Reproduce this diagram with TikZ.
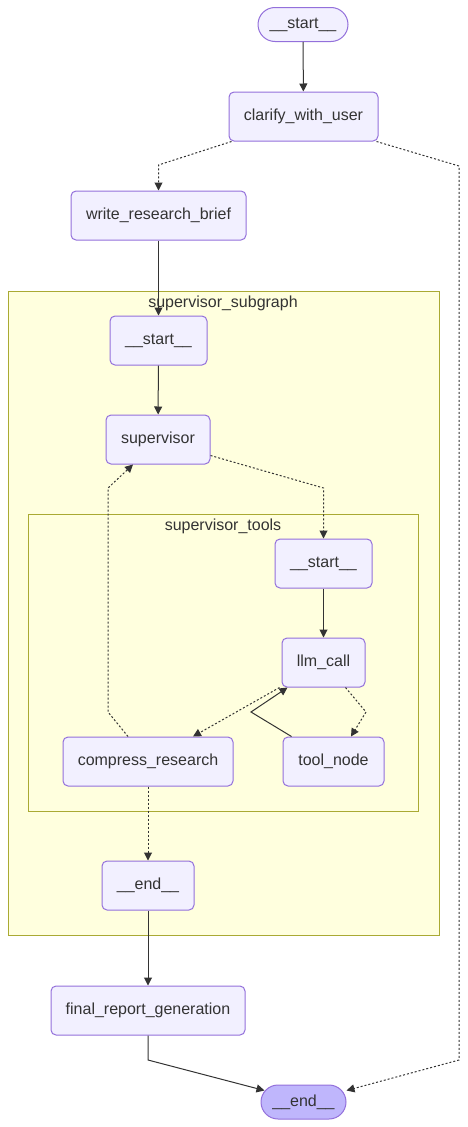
\documentclass[tikz,border=0pt]{standalone}
\usepackage{fontspec}
\setmainfont{Liberation Sans}
\usetikzlibrary{arrows.meta}
\definecolor{nodefill}{HTML}{F2F0FF}
\definecolor{nodeline}{HTML}{9370DB}
\definecolor{clusterfill}{HTML}{FFFFDE}
\definecolor{clusterline}{HTML}{AAAA33}
\definecolor{edgecol}{HTML}{333333}
\definecolor{endfill}{HTML}{BFB6FC}
\begin{document}
\begin{tikzpicture}[x=1pt, y=-1pt, text=edgecol, font=\fontsize{16}{19}\selectfont,
  main/.style = {draw=nodeline, fill=nodefill, line width=1pt, rounded corners=5pt, minimum height=49pt, inner sep=0pt},
  pill/.style = {main, rounded corners=17pt, minimum height=34pt},
  cluster/.style = {draw=clusterline, fill=clusterfill, line width=1pt},
  flow/.style = {draw=edgecol, line width=1pt, -{Triangle[length=8pt, width=8pt]}},
  cond/.style = {flow, dash pattern=on 2pt off 2pt}]
\useasboundingbox (0,0) rectangle (467,1127);
\draw[cluster] (8,291) rectangle (439,935);
\node[anchor=base] (subgraphlabel) at (223,307) {supervisor\_subgraph};
\draw[cluster] (28,514) rectangle (418,811);
\node[anchor=base] (toolslabel) at (223,530) {supervisor\_tools};
\node[pill, minimum width=90pt] (start) at (303,24.5) {\_\_start\_\_};
\node[main, minimum width=149pt] (clarify) at (303.5,116.5) {clarify\_with\_user};
\node[main, minimum width=175pt] (brief) at (158.5,215.5) {write\_research\_brief};
\node[main, minimum width=97pt] (substart) at (158.5,340.5) {\_\_start\_\_};
\node[main, minimum width=104pt] (supervisor) at (158,439.5) {supervisor};
\node[main, minimum width=97pt] (toolsstart) at (323.5,563.5) {\_\_start\_\_};
\node[main, minimum width=83pt] (llm) at (323.5,662.5) {llm\_call};
\node[main, minimum width=170pt] (compress) at (148,761.5) {compress\_research};
\node[main, minimum width=101pt] (toolnode) at (333.5,761.5) {tool\_node};
\node[main, minimum width=92pt] (subend) at (148,885.5) {\_\_end\_\_};
\node[main, minimum width=194pt] (final) at (148,1010.5) {final\_report\_generation};
\node[pill, fill=endfill, minimum width=85pt] (end) at (303.5,1102) {\_\_end\_\_};
\draw[flow] (start) -- (clarify);
\draw[cond] ([xshift=3pt]clarify.south west) -- (158.5,165) -- (brief.north);
\draw[cond] ([xshift=-2pt]clarify.south east) -- (459,166) -- (459,1060) -- ([yshift=-6pt]end.north east);
\draw[flow] (brief) -- (substart);
\draw[flow] (substart) -- (supervisor);
\draw[cond] ([yshift=9pt]supervisor.south east) -- (323.5,488) -- (toolsstart.north);
\draw[cond] ([xshift=-20pt]compress.north) -- (108,712) -- (108,488) -- ([xshift=-25pt]supervisor.south);
\draw[flow] (toolsstart) -- (llm);
\draw[cond] ([xshift=-2pt]llm.south west) -- ([xshift=45pt]compress.north);
\draw[cond] ([xshift=-20pt]llm.south east) -- (366,712) -- ([xshift=17.5pt]toolnode.north);
\draw[flow] ([xshift=-42pt]toolnode.north) -- (251,712) -- ([xshift=-36pt]llm.south);
\draw[cond] (compress) -- (subend);
\draw[flow] (subend) -- (final);
\draw[flow] (final.south) -- (148,1060) -- ([xshift=4pt, yshift=-6pt]end.north west);
\end{tikzpicture}
\end{document}
